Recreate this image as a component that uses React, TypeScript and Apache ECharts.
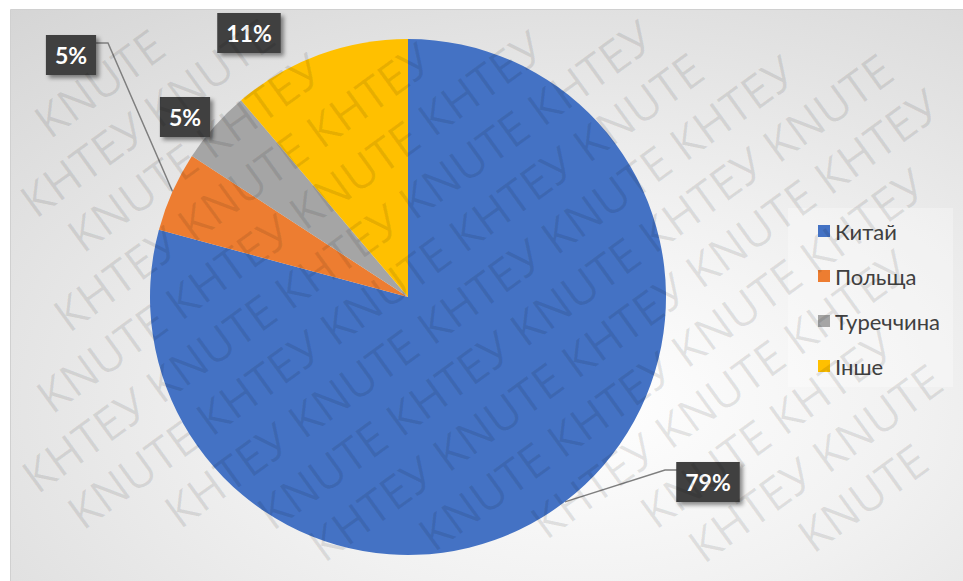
import React, { useEffect, useRef } from "react";
import * as echarts from "echarts";

// ---- data ----
const categories = ["Китай", "Польща", "Туреччина", "Інше"];
const shares = [79.2, 5.0, 4.6, 11.2];
const sliceColors = ["#4472C4", "#ED7D31", "#A5A5A5", "#FFC000"];
const watermarkWords = ["КНТЕУ", "KNUTE"];

const FONT = 'Lato, "Noto Sans", "DejaVu Sans", sans-serif';
const W = 963;
const H = 581;

function buildWatermark(): any[] {
  const size = 46;
  const family = '"Open Sans", "Noto Sans", sans-serif';
  const ctx = document.createElement("canvas").getContext("2d") as CanvasRenderingContext2D;
  ctx.font = `${size}px ${family}`;
  const widths = watermarkWords.map((w) => ctx.measureText(w).width);
  const space = ctx.measureText(" ").width;
  const ang = (36 * Math.PI) / 180;
  const c = Math.cos(ang);
  const s = Math.sin(ang);
  const cx = 480;
  const cy = 290;
  const halfH = size * 0.6;
  const toScreen = (lx: number, ly: number) => [cx + lx * c + ly * s, cy - lx * s + ly * c];
  const inPage = ([x, y]: number[]) => x >= 0.5 && x <= W - 0.5 && y >= 0.5 && y <= H - 0.5;
  const out: any[] = [];
  for (let j = -12; j <= 12; j++) {
    const ly = j * 56;
    // admissible interval along the row
    let a = Infinity;
    let b = -Infinity;
    for (let lx = -1500; lx <= 1500; lx += 1) {
      if (inPage(toScreen(lx, ly - halfH)) && inPage(toScreen(lx, ly + halfH))) {
        if (lx < a) a = lx;
        if (lx > b) b = lx;
      }
    }
    if (!(b > a)) continue;
    const startWord = Math.abs(j) % 2;
    const placed: { lx: number; wi: number }[] = [];
    let lx = a;
    let k = startWord;
    while (true) {
      const wi = k % 2;
      if (lx + widths[wi] > b) break;
      placed.push({ lx, wi });
      lx += widths[wi] + space;
      k++;
    }
    if (!placed.length) continue;
    const last = placed[placed.length - 1];
    const slack = b - (last.lx + widths[last.wi]);
    const shift = slack / 2;
    placed.forEach(({ lx: px, wi }) => {
      const [x, y] = toScreen(px + shift, ly);
      out.push({
        type: "text",
        x,
        y,
        rotation: ang,
        z: 100,
        silent: true,
        style: {
          text: watermarkWords[wi],
          fill: "rgba(0,0,0,0.09)",
          fontSize: size,
          fontFamily: family,
          verticalAlign: "middle",
          align: "left",
        },
      });
    });
  }
  return out;
}

export default function App() {
  const ref = useRef<HTMLDivElement>(null);

  useEffect(() => {
    const chart = echarts.init(ref.current as HTMLDivElement, null, { renderer: "svg" });

    // label layout (positions of the value boxes)
    const labelPos: Record<number, [number, number]> = {
      0: [708, 482],
      1: [71, 55],
      2: [185, 117],
      3: [249, 33],
    };

    const option: any = {
      animation: false,
      graphic: [
        {
          type: "rect",
          z: -10,
          silent: true,
          shape: { x: 10.5, y: 9.5, width: 960, height: 580 },
          style: {
            fill: new echarts.graphic.RadialGradient(0.6, 0.68, 1.15, [
              { offset: 0, color: "#ffffff" },
              { offset: 0.3, color: "#f1f1f1" },
              { offset: 1, color: "#c9c9c9" },
            ]),
            stroke: "#d0d0d0",
            lineWidth: 1,
          },
        },
        ...buildWatermark(),
      ],
      legend: {
        orient: "vertical",
        left: 788,
        top: 208,
        padding: [12, 13, 10, 30],
        itemWidth: 12,
        itemHeight: 12,
        itemGap: 23,
        icon: "rect",
        backgroundColor: "rgba(255,255,255,0.3)",
        textStyle: { fontSize: 22, color: "#404040", fontFamily: FONT },
        data: categories,
      },
      series: [
        {
          type: "pie",
          center: [408, 297],
          radius: 258,
          startAngle: 90,
          clockwise: true,
          avoidLabelOverlap: false,
          percentPrecision: 0,
          itemStyle: { borderWidth: 0 },
          emphasis: { disabled: true },
          label: {
            show: true,
            position: "outside",
            formatter: "{d}%",
            color: "#ffffff",
            fontWeight: "bold",
            fontSize: 23,
            fontFamily: FONT,
            backgroundColor: "#404040",
            padding: [9, 9, 8, 9],
            shadowColor: "rgba(0,0,0,0.45)",
            shadowBlur: 4,
            shadowOffsetX: 3,
            shadowOffsetY: 3,
          },
          labelLine: {
            show: true,
            length: 20,
            length2: 12,
            lineStyle: { color: "#7f7f7f", width: 1.5 },
          },
          labelLayout: (p: any) => {
            const pos = labelPos[p.dataIndex];
            const out: any = { x: pos[0], y: pos[1], align: "center", verticalAlign: "middle" };
            if (p.dataIndex === 0 && p.labelLinePoints) {
              out.labelLinePoints = [p.labelLinePoints[0], [665, 470], [677, 470]];
            }
            if (p.dataIndex === 1 && p.labelLinePoints) {
              out.labelLinePoints = [p.labelLinePoints[0], [108, 43], [96, 43]];
            }
            return out;
          },
          data: categories.map((name, i) => ({
            name,
            value: shares[i],
            itemStyle: { color: sliceColors[i] },
            labelLine: { show: i < 2 },
          })),
        },
      ],
    };

    chart.setOption(option);
    return () => chart.dispose();
  }, []);

  return (
    <div
      ref={ref}
      style={{ position: "absolute", left: 0, top: 0, width: W, height: H, background: "#ffffff" }}
    />
  );
}
